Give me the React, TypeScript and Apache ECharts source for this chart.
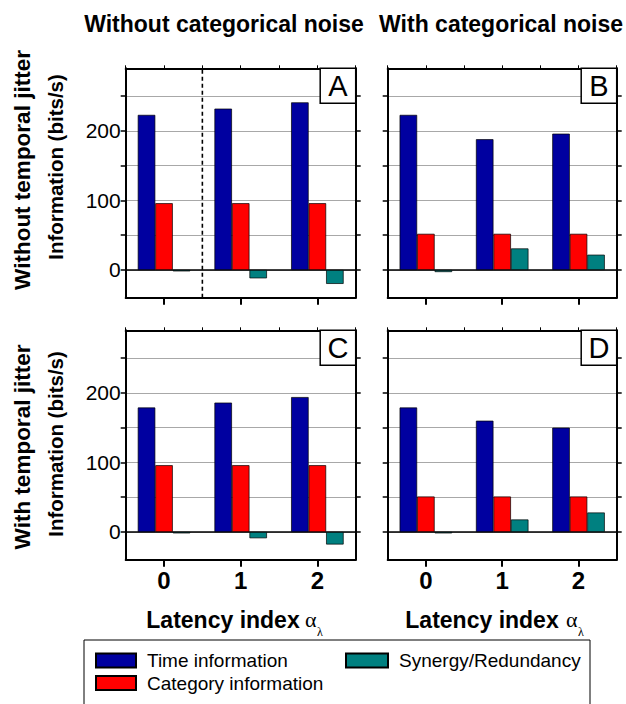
import React, { useEffect, useRef } from 'react';
import * as echarts from 'echarts';

// ---- data ----
const categories = ['0', '1', '2'];
const seriesNames = ['Time information', 'Category information', 'Synergy/Redundancy'];

const timeA = [223, 232, 241];
const catA = [96, 96, 96];
const synA = [-2, -12, -20];

const timeB = [223, 188, 196];
const catB = [52, 52, 52];
const synB = [-3, 31, 22];

const timeC = [179, 186, 194];
const catC = [96, 96, 96];
const synC = [-2, -9, -18];

const timeD = [179, 160, 150];
const catD = [51, 51, 51];
const synD = [-2, 18, 28];

const yTickValues = [0, 50, 100, 150, 200, 250];
const yLabelValues = [0, 100, 200];
const yMin = -40;
const yMax = 290;
const panelLetters = ['A', 'B', 'C', 'D'];
const colTitles = ['Without categorical noise', 'With categorical noise'];
const rowTitles = ['Without temporal jitter', 'With temporal jitter'];
const yAxisTitle = 'Information (bits/s)';
const xAxisTitle = 'Latency index';
const dashedAt = [0.5];

// ---- styling / layout ----
const FONT = "'Liberation Sans', Arial, Helvetica, sans-serif";
const SERIF = "'Liberation Serif', 'DejaVu Serif', serif";
const COLORS = ['#0000A0', '#FF0000', '#008080'];
const GRIDS = [
  { left: 125.7, top: 68.3, width: 230, height: 229.5 },
  { left: 387.7, top: 68.3, width: 229, height: 229.5 },
  { left: 125.7, top: 330.3, width: 230, height: 229.5 },
  { left: 387.7, top: 330.3, width: 229, height: 229.5 },
];

const panels = [
  [timeA, catA, synA],
  [timeB, catB, synB],
  [timeC, catC, synC],
  [timeD, catD, synD],
];

function buildOption() {
  const grid: any[] = [];
  const xAxis: any[] = [];
  const yAxis: any[] = [];
  const series: any[] = [];
  const graphic: any[] = [];
  const black = { color: '#000', width: 2 };

  GRIDS.forEach((g, i) => {
    grid.push({ left: g.left, top: g.top, width: g.width, height: g.height, containLabel: false });
    xAxis.push({
      type: 'category',
      gridIndex: i,
      position: 'bottom',
      data: categories,
      axisLine: { show: true, onZero: false, lineStyle: black },
      axisTick: { show: true, alignWithLabel: true, length: 7, lineStyle: black },
      axisLabel: {
        show: i >= 2,
        fontSize: 24,
        fontWeight: 'bold',
        fontFamily: FONT,
        color: '#000',
        margin: 9,
      },
      splitLine: { show: false },
    });
    xAxis.push({
      type: 'value',
      gridIndex: i,
      position: 'top',
      min: -0.5,
      max: 2.5,
      interval: 0.5,
      axisLine: { show: true, onZero: false, lineStyle: black },
      axisTick: { show: true, length: 3, lineStyle: { color: '#000', width: 1 } },
      axisLabel: { show: false },
      splitLine: { show: false },
    });
    yAxis.push({
      type: 'value',
      gridIndex: i,
      position: 'left',
      min: yMin,
      max: yMax,
      axisLine: { show: true, onZero: false, lineStyle: black },
      axisTick: { show: true, customValues: yTickValues, length: 5, lineStyle: { color: '#000', width: 1.5 } },
      axisLabel: {
        show: i % 2 === 0,
        customValues: yLabelValues,
        fontSize: 21,
        fontFamily: FONT,
        color: '#000',
        margin: 5,
      },
      splitLine: { show: true, lineStyle: { color: '#a8a8a8', width: 1.2 } },
    });
    yAxis.push({
      type: 'value',
      gridIndex: i,
      position: 'right',
      min: yMin,
      max: yMax,
      axisLine: { show: true, onZero: false, lineStyle: black },
      axisTick: { show: true, customValues: yTickValues, length: 5, lineStyle: { color: '#000', width: 1.5 } },
      axisLabel: { show: false },
      splitLine: { show: false },
    });

    // zero line (below bars so the tiny teal bars stay visible)
    series.push({
      type: 'line',
      name: 'zero' + i,
      xAxisIndex: 2 * i + 1,
      yAxisIndex: 2 * i,
      data: [[-0.5, 0], [2.5, 0]],
      symbol: 'none',
      silent: true,
      lineStyle: { color: '#000', width: 1.6 },
      z: 1,
    });
    panels[i].forEach((vals, k) => {
      series.push({
        type: 'bar',
        name: seriesNames[k],
        xAxisIndex: 2 * i,
        yAxisIndex: 2 * i,
        data: vals,
        barWidth: 17.5,
        barGap: '0%',
        itemStyle: { color: COLORS[k], borderColor: '#000', borderWidth: 0.7 },
        z: 2,
      });
    });
    if (i === 0) {
      dashedAt.forEach((x) => {
        series.push({
          type: 'line',
          name: 'divider',
          xAxisIndex: 1,
          yAxisIndex: 0,
          data: [[x, yMin], [x, yMax]],
          symbol: 'none',
          silent: true,
          lineStyle: { color: '#000', width: 1.6, type: [4, 3] },
          z: 4,
        });
      });
    }
    graphic.push({
      type: 'rect',
      shape: { x: g.left + g.width - 35.5, y: g.top, width: 35.5, height: 35 },
      style: { fill: '#fff', stroke: '#000', lineWidth: 1.5 },
      z: 10,
    });
    graphic.push({
      type: 'text',
      x: g.left + g.width - 17.75,
      y: g.top + 18,
      style: {
        text: panelLetters[i],
        fontSize: 29,
        fontFamily: FONT,
        fill: '#000',
        align: 'center',
        verticalAlign: 'middle',
      },
      z: 11,
    });
  });

  graphic.push({
    type: 'text', x: 224, y: 24,
    style: { text: colTitles[0], fontSize: 23, fontWeight: 'bold', fontFamily: FONT, fill: '#000', align: 'center', verticalAlign: 'middle' },
  });
  graphic.push({
    type: 'text', x: 623, y: 24,
    style: { text: colTitles[1], fontSize: 23, fontWeight: 'bold', fontFamily: FONT, fill: '#000', align: 'right', verticalAlign: 'middle' },
  });
  [170, 447].forEach((cy, r) => {
    graphic.push({
      type: 'text', x: 22, y: cy, rotation: Math.PI / 2,
      style: { text: rowTitles[r], fontSize: 22.5, fontWeight: 'bold', fontFamily: FONT, fill: '#000', align: 'center', verticalAlign: 'middle' },
    });
    graphic.push({
      type: 'text', x: 55, y: cy - 3, rotation: Math.PI / 2,
      style: { text: yAxisTitle, fontSize: 20.5, fontWeight: 'bold', fontFamily: FONT, fill: '#000', align: 'center', verticalAlign: 'middle' },
    });
  });
  [[223, 305], [482, 566]].forEach(([cx, ax]) => {
    graphic.push({
      type: 'text', x: cx, y: 620,
      style: { text: xAxisTitle, fontSize: 23, fontWeight: 'bold', fontFamily: FONT, fill: '#000', align: 'center', verticalAlign: 'middle' },
    });
    graphic.push({
      type: 'text', x: ax, y: 619,
      style: { text: '\u03b1', fontSize: 22, fontFamily: SERIF, fill: '#000', align: 'left', verticalAlign: 'middle' },
    });
    graphic.push({
      type: 'text', x: ax + 12, y: 632,
      style: { text: '\u03bb', fontSize: 12, fontFamily: SERIF, fill: '#000', align: 'left', verticalAlign: 'middle' },
    });
  });
  graphic.push({
    type: 'rect',
    shape: { x: 84, y: 640, width: 506, height: 80 },
    style: { fill: 'none', stroke: '#000', lineWidth: 1 },
    z: 1,
  });

  const legendText = { fontSize: 19, fontFamily: FONT, color: '#000', padding: [0, 0, 0, 6] };
  const legend = [
    {
      data: [seriesNames[0], seriesNames[1]],
      orient: 'vertical',
      left: 95,
      top: 651,
      padding: 0,
      itemWidth: 40,
      itemHeight: 14,
      itemGap: 3.5,
      icon: 'rect',
      selectedMode: false,
      textStyle: legendText,
    },
    {
      data: [seriesNames[2]],
      orient: 'vertical',
      left: 345,
      top: 651,
      padding: 0,
      itemWidth: 42,
      itemHeight: 14,
      itemGap: 3.5,
      icon: 'rect',
      selectedMode: false,
      textStyle: legendText,
    },
  ];

  return {
    animation: false,
    backgroundColor: '#fff',
    grid,
    xAxis,
    yAxis,
    series,
    legend,
    graphic,
  };
}

export default function App() {
  const ref = useRef<HTMLDivElement>(null);
  useEffect(() => {
    if (!ref.current) return;
    const chart = echarts.init(ref.current, null, { renderer: 'svg' });
    chart.setOption(buildOption() as any);
    return () => chart.dispose();
  }, []);
  return (
    <div
      ref={ref}
      style={{ position: 'absolute', left: 0, top: 0, width: 626, height: 704 }}
    />
  );
}
